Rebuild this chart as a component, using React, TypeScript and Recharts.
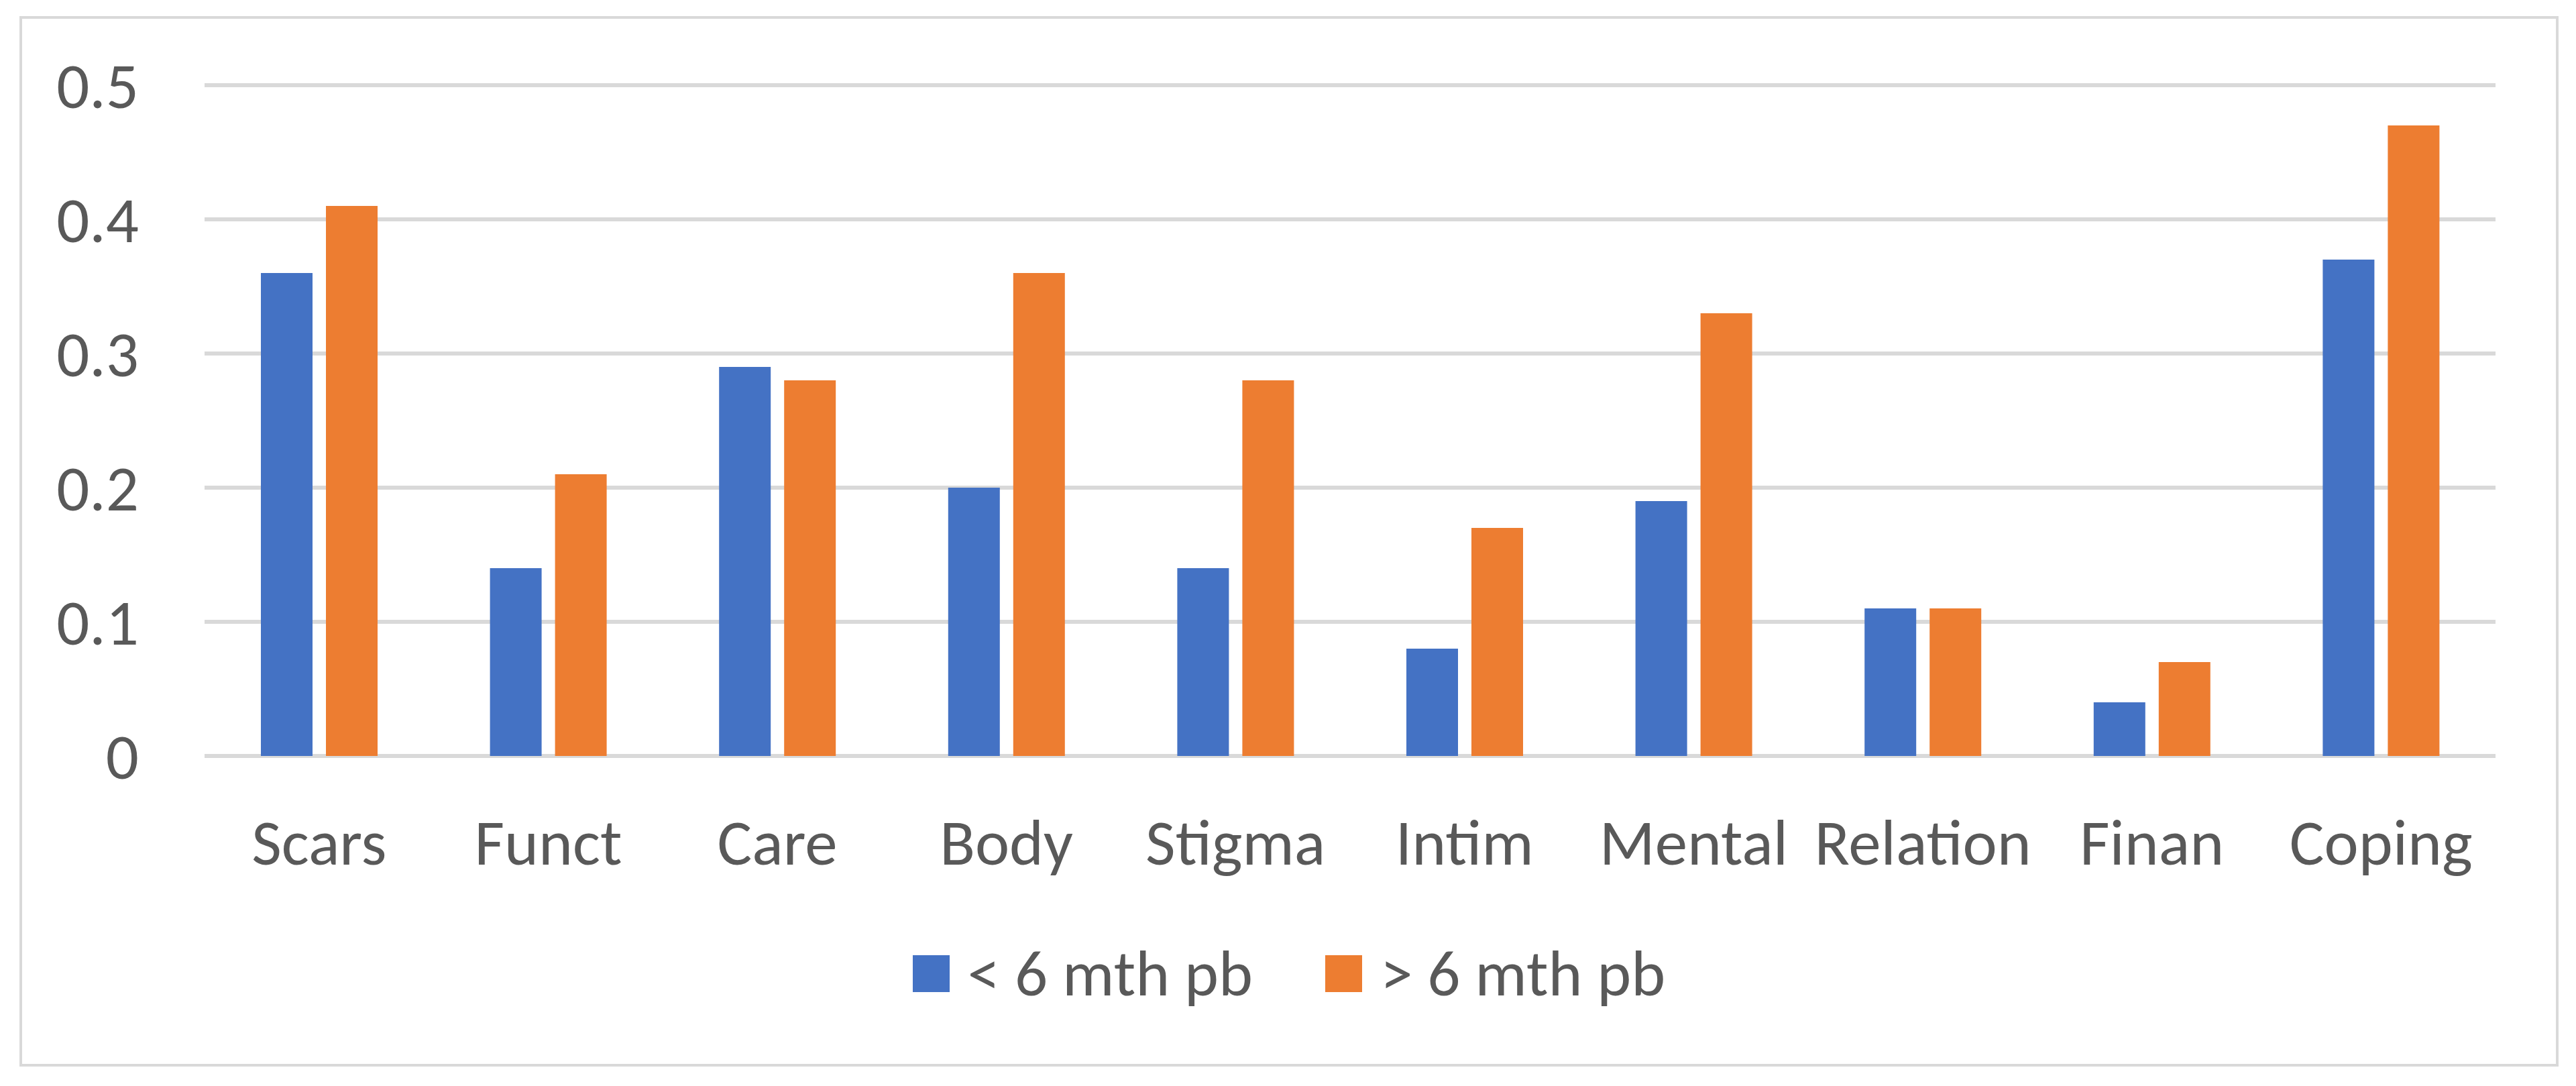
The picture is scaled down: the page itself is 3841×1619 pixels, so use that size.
import React from "react";
import { Bar, BarChart, CartesianGrid, Legend, XAxis, YAxis } from "recharts";

const categories = ["Scars", "Funct", "Care", "Body", "Stigma", "Intim", "Mental", "Relation", "Finan", "Coping"];
const underSix = [0.36, 0.14, 0.29, 0.2, 0.14, 0.08, 0.19, 0.11, 0.04, 0.37];
const overSix = [0.41, 0.21, 0.28, 0.36, 0.28, 0.17, 0.33, 0.11, 0.07, 0.47];
const yTicks = [0, 0.1, 0.2, 0.3, 0.4, 0.5];
const seriesNames = ["< 6 mth pb", "> 6 mth pb"];
const seriesColors = ["#4472C4", "#ED7D31"];

const data = categories.map((name, i) => ({
  name,
  under: underSix[i],
  over: overSix[i],
}));

const FONT = "Carlito, 'Liberation Sans Narrow', 'Open Sans', sans-serif";
const TEXT = "#595959";
const GRID = "#d9d9d9";

const LegendContent = () => (
  <div
    style={{
      display: "flex",
      justifyContent: "center",
      alignItems: "center",
      fontFamily: FONT,
      fontSize: 97,
      color: TEXT,
      lineHeight: 1,
    }}
  >
    {seriesNames.map((n, i) => (
      <div key={n} style={{ display: "flex", alignItems: "center", marginLeft: i ? 108 : 0 }}>
        <span
          style={{
            display: "inline-block",
            width: 55,
            height: 55,
            background: seriesColors[i],
            marginRight: 27,
          }}
        />
        <span>{n}</span>
      </div>
    ))}
  </div>
);

export default function App() {
  return (
    <div style={{ position: "absolute", left: 0, top: 0, width: 3841, height: 1619, background: "#fff" }}>
      <div
        style={{
          position: "absolute",
          left: 29,
          top: 24,
          width: 3778,
          height: 1558,
          border: `4px solid ${GRID}`,
        }}
      >
        <BarChart
          width={3778}
          height={1558}
          data={data}
          margin={{ top: 99, right: 90, bottom: 299, left: 0 }}
          barSize={77}
          barGap={20}
        >
          <CartesianGrid horizontal vertical={false} stroke={GRID} strokeWidth={6} />
          <XAxis
            dataKey="name"
            height={160}
            axisLine={false}
            tickLine={false}
            tickSize={0}
            tickMargin={93}
            interval={0}
            tick={{ fill: TEXT, fontSize: 97, fontFamily: FONT }}
          />
          <YAxis
            width={272}
            domain={[0, 0.5]}
            ticks={yTicks}
            axisLine={false}
            tickLine={false}
            tickSize={0}
            tickMargin={98}
            tick={{ fill: TEXT, fontSize: 97, fontFamily: FONT }}
          />
          <Legend
            layout="horizontal"
            align="center"
            verticalAlign="middle"
            content={<LegendContent />}
            wrapperStyle={{ top: 1375, left: 0, width: 3778 }}
          />
          <Bar dataKey="under" name={seriesNames[0]} fill={seriesColors[0]} isAnimationActive={false} />
          <Bar dataKey="over" name={seriesNames[1]} fill={seriesColors[1]} isAnimationActive={false} />
        </BarChart>
      </div>
    </div>
  );
}
